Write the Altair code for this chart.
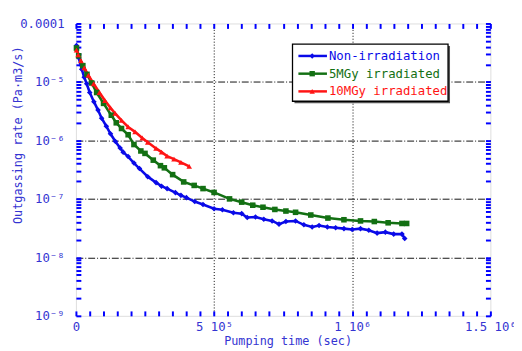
import altair as alt
import pandas as pd

# ---------------- data ----------------
series_names = ["Non-irradiation", "5MGy irradiated", "10MGy irradiated"]
series_colors = ["#0a0ae8", "#137013", "#ff1414"]
series_shapes = ["diamond", "square", "triangle-up"]

t_blue = [2000, 10000, 21000, 30000, 39000, 50000, 65000, 80000, 93000, 110000,
          125000, 143000, 160000, 171000, 189000, 210000, 230000, 260000, 290000, 310000,
          330000, 360000, 380000, 400000, 430000, 460000, 500000, 530000, 570000, 600000,
          620000, 650000, 680000, 710000, 735000, 760000, 795000, 825000, 855000, 880000,
          910000, 940000, 970000, 1000000, 1030000, 1060000, 1090000, 1120000, 1150000, 1180000,
          1190000]
v_blue = [4.2e-5, 2.6e-5, 1.65e-5, 1.2e-5, 9.3e-6, 6.6e-6, 4.6e-6, 3.3e-6, 2.4e-6, 1.75e-6,
          1.3e-6, 9.6e-7, 7.4e-7, 6.3e-7, 5.3e-7, 4.1e-7, 3.3e-7, 2.4e-7, 1.9e-7, 1.65e-7,
          1.5e-7, 1.28e-7, 1.15e-7, 1.05e-7, 9.0e-8, 8.0e-8, 6.8e-8, 6.5e-8, 5.8e-8, 5.6e-8,
          4.8e-8, 4.9e-8, 4.5e-8, 4.2e-8, 3.7e-8, 4.1e-8, 4.2e-8, 3.6e-8, 3.3e-8, 3.5e-8,
          3.3e-8, 3.2e-8, 3.1e-8, 3.0e-8, 3.1e-8, 2.9e-8, 2.6e-8, 2.7e-8, 2.5e-8, 2.5e-8,
          2.1e-8]

t_green = [2000, 10000, 25000, 40000, 57000, 75000, 100000, 128000, 146000, 165000,
           189000, 210000, 235000, 250000, 280000, 306000, 320000, 350000, 390000, 428000,
           460000, 500000, 556000, 600000, 640000, 677000, 720000, 760000, 795000, 850000,
           912000, 970000, 1030000, 1080000, 1130000, 1180000, 1197000]
v_green = [3.8e-5, 2.8e-5, 1.9e-5, 1.35e-5, 9.6e-6, 6.6e-6, 4.3e-6, 2.7e-6, 2.0e-6, 1.6e-6,
           1.25e-6, 8.5e-7, 6.6e-7, 6.0e-7, 4.6e-7, 3.7e-7, 3.4e-7, 2.6e-7, 1.95e-7, 1.7e-7,
           1.5e-7, 1.29e-7, 1.0e-7, 8.8e-8, 7.8e-8, 7.2e-8, 6.6e-8, 6.2e-8, 5.9e-8, 5.3e-8,
           4.7e-8, 4.4e-8, 4.2e-8, 4.1e-8, 3.9e-8, 3.8e-8, 3.8e-8]

t_red = [2000, 8000, 18000, 30000, 45000, 64000, 85000, 105000, 125000, 142000,
         165000, 189000, 214000, 240000, 260000, 290000, 310000, 330000, 355000, 380000,
         410000]
v_red = [3.5e-5, 2.9e-5, 2.3e-5, 1.75e-5, 1.3e-5, 9.3e-6, 6.6e-6, 4.8e-6, 3.6e-6, 2.9e-6,
         2.2e-6, 1.7e-6, 1.4e-6, 1.1e-6, 9.3e-7, 7.3e-7, 6.3e-7, 5.4e-7, 4.8e-7, 4.2e-7,
         3.6e-7]

x_label_values = [0, 500000, 1000000, 1500000]
x_label_texts = ["0", "5 10⁵", "1 10⁶", "1.5 10⁶"]
y_label_values = [1e-9, 1e-8, 1e-7, 1e-6, 1e-5, 1e-4]
y_label_texts = ["10⁻⁹", "10⁻⁸", "10⁻⁷", "10⁻⁶", "10⁻⁵", "0.0001"]
x_grid_values = [500000, 1000000]
y_grid_values = [1e-8, 1e-7, 1e-6, 1e-5]

# ---------------- styling ----------------
W, H = 421, 297
FONT = "DejaVu Sans Mono"
AXIS_BLUE = "#0000ff"
LABEL_BLUE = "#3434d2"

x_minor = [i * 50000 for i in range(31)]
y_minor = [k * 10.0 ** d for d in range(-9, -4) for k in range(1, 10)] + [1e-4]

xs = alt.Scale(domain=[0, 1500000], nice=False, zero=False)
ys = alt.Scale(type="log", domain=[1e-9, 1e-4], nice=False)


def label_expr(values, texts):
    parts = []
    for i in range(len(values) - 1):
        mid = (values[i] * values[i + 1]) ** 0.5 if values[i] > 0 else values[i + 1] / 2
        parts.append(f"datum.value < {mid!r} ? '{texts[i]}' : ")
    return "".join(parts) + f"'{texts[-1]}'"


frames = []
for name, t, v in zip(series_names, [t_blue, t_green, t_red], [v_blue, v_green, v_red]):
    frames.append(pd.DataFrame({"t": t, "v": v, "series": name}))
df = pd.concat(frames, ignore_index=True)

axis_x_main = alt.Axis(
    orient="bottom",
    values=x_label_values, labelExpr=label_expr(x_label_values, x_label_texts),
    labelFlush=False, labelOverlap=False,
    ticks=False, domain=False, grid=False, labelFont=FONT, labelFontSize=12.5,
    labelColor=LABEL_BLUE, labelPadding=5, title="Pumping time (sec)", titleFont=FONT,
    titleFontSize=12, titleFontWeight="normal", titleColor=LABEL_BLUE, titleX=215,
    titleY=25, titleBaseline="middle")
axis_y_main = alt.Axis(
    orient="left",
    values=y_label_values, labelExpr=label_expr(y_label_values, y_label_texts),
    labelFlush=False, labelOverlap=False, ticks=False, domain=False, grid=False,
    labelFont=FONT, labelFontSize=12.5, labelColor=LABEL_BLUE, labelPadding=12,
    title="Outgassing rate (Pa·m3/s)", titleFont=FONT, titleFontSize=12,
    titleFontWeight="normal", titleColor=LABEL_BLUE, titleX=-59, titleY=113,
    titleBaseline="middle")

color_enc = alt.Color("series:N", scale=alt.Scale(domain=series_names, range=series_colors), legend=None)
lines = alt.Chart(df).mark_line(strokeWidth=2.6).encode(
    x=alt.X("t:Q", scale=xs, axis=axis_x_main),
    y=alt.Y("v:Q", scale=ys, axis=axis_y_main),
    color=color_enc,
    detail="series:N",
)
points = alt.Chart(df).mark_point(filled=True, size=32, opacity=1).encode(
    x=alt.X("t:Q", scale=xs, axis=axis_x_main),
    y=alt.Y("v:Q", scale=ys, axis=axis_y_main),
    color=color_enc,
    shape=alt.Shape("series:N", scale=alt.Scale(domain=series_names, range=series_shapes), legend=None),
)
data_layer = alt.layer(lines, points)


def tick_axis(orient, offset, values):
    return alt.Axis(orient=orient, offset=offset, values=values, labels=False, domain=False,
                    grid=False, ticks=True, tickSize=5, tickWidth=2, tickColor=AXIS_BLUE,
                    title=None)


ticks_in_a = alt.Chart(df).mark_point(opacity=0).encode(
    x=alt.X("t:Q", scale=xs, axis=tick_axis("top", -H, x_minor)),
    y=alt.Y("v:Q", scale=ys, axis=tick_axis("right", -W, y_minor)),
)
ticks_in_b = alt.Chart(df).mark_point(opacity=0).encode(
    x=alt.X("t:Q", scale=xs, axis=tick_axis("bottom", -H, x_minor)),
    y=alt.Y("v:Q", scale=ys, axis=tick_axis("left", -W, y_minor)),
)
grid_layer = alt.Chart(df).mark_point(opacity=0).encode(
    x=alt.X("t:Q", scale=xs, axis=alt.Axis(orient="bottom", values=x_grid_values, labels=False,
                                           ticks=False, domain=False, grid=True,
                                           gridColor="#000000", gridDash=[1, 2], gridWidth=1,
                                           title=None)),
    y=alt.Y("v:Q", scale=ys, axis=alt.Axis(orient="left", values=y_grid_values, labels=False,
                                           ticks=False, domain=False, grid=True,
                                           gridColor="#111111", gridDash=[7, 2, 1, 2],
                                           gridWidth=1, title=None)),
)

# ---------------- legend (manual box) ----------------
one = pd.DataFrame({"k": [0]})
LX0, LX1, LY0, LY1 = 220, 378, 21, 79
legend_layers = [
    alt.Chart(one).mark_rect(color="#555555").encode(
        x=alt.value(LX0 + 2), x2=alt.value(LX1 + 2), y=alt.value(LY0 + 2), y2=alt.value(LY1 + 2)),
    alt.Chart(one).mark_rect(fill="white", stroke="black", strokeWidth=1.3).encode(
        x=alt.value(LX0), x2=alt.value(LX1), y=alt.value(LY0), y2=alt.value(LY1)),
]
for i, (name, col, shp) in enumerate(zip(series_names, series_colors, series_shapes)):
    yy = 33 + 18 * i
    legend_layers.append(alt.Chart(one).mark_rule(color=col, strokeWidth=2.5).encode(
        x=alt.value(226), x2=alt.value(255), y=alt.value(yy)))
    legend_layers.append(alt.Chart(one).mark_point(shape=shp, filled=True, color=col, size=30, opacity=1).encode(
        x=alt.value(240), y=alt.value(yy)))
    legend_layers.append(alt.Chart(one).mark_text(align="left", baseline="middle", font=FONT,
                                                  fontSize=12.5, color=col, text=name).encode(
        x=alt.value(257), y=alt.value(yy)))

chart = alt.layer(grid_layer, data_layer, ticks_in_a, ticks_in_b, *legend_layers).resolve_scale(
    x="independent", y="independent"
).properties(
    width=W, height=H,
    autosize=alt.AutoSizeParams(type="none"),
    padding={"left": 69, "top": 13, "right": 24, "bottom": 33},
).configure_view(
    stroke=AXIS_BLUE, strokeWidth=3
).configure(background="white")

chart.save("out.html", embed_options={"renderer": "svg", "actions": False})
